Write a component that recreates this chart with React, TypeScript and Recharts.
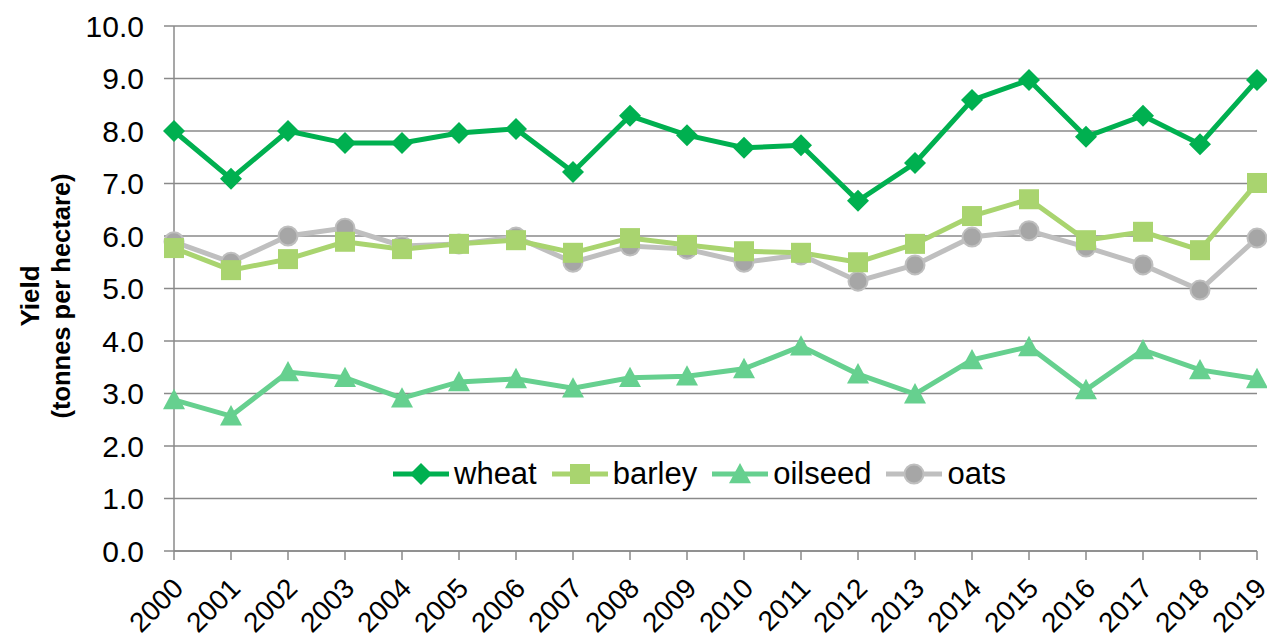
import React from "react";
import { LineChart, Line, XAxis, YAxis, CartesianGrid, Label } from "recharts";

const years = ["2000","2001","2002","2003","2004","2005","2006","2007","2008","2009","2010","2011","2012","2013","2014","2015","2016","2017","2018","2019"];
const wheat = [8.0, 7.09, 8.0, 7.77, 7.77, 7.96, 8.04, 7.22, 8.29, 7.92, 7.68, 7.73, 6.67, 7.39, 8.59, 8.97, 7.89, 8.29, 7.75, 8.97];
const barley = [5.77, 5.35, 5.56, 5.89, 5.75, 5.85, 5.92, 5.68, 5.96, 5.83, 5.71, 5.68, 5.5, 5.85, 6.38, 6.7, 5.92, 6.08, 5.73, 7.01];
const oilseed = [2.88, 2.57, 3.41, 3.3, 2.91, 3.22, 3.28, 3.1, 3.3, 3.33, 3.47, 3.9, 3.37, 2.99, 3.64, 3.89, 3.07, 3.83, 3.45, 3.28];
const oats = [5.89, 5.5, 6.0, 6.15, 5.81, 5.85, 5.98, 5.5, 5.81, 5.75, 5.5, 5.64, 5.14, 5.45, 5.98, 6.1, 5.79, 5.45, 4.97, 5.96];
const yTicks = [0, 1, 2, 3, 4, 5, 6, 7, 8, 9, 10];

const data = years.map((y, i) => ({ year: y, wheat: wheat[i], barley: barley[i], oilseed: oilseed[i], oats: oats[i] }));

const C_WHEAT = "#00B050";
const C_BARLEY = "#A9D46F";
const C_OIL = "#66D08F";
const C_OATS = "#BFBFBF";
const C_OATS_FILL = "#A6A6A6";
const C_GRID = "#8A8A8A";
const FONT = "'Liberation Sans', Arial, sans-serif";

const Diamond = ({ cx, cy, s = 11 }: any) => (
  <path d={`M${cx},${cy - s}L${cx + s},${cy}L${cx},${cy + s}L${cx - s},${cy}Z`} fill={C_WHEAT} />
);
const Square = ({ cx, cy, s = 10 }: any) => (
  <rect x={cx - s} y={cy - s} width={2 * s} height={2 * s} fill={C_BARLEY} />
);
const Triangle = ({ cx, cy, s = 11 }: any) => (
  <path d={`M${cx},${cy - s}L${cx + s},${cy + s * 0.85}L${cx - s},${cy + s * 0.85}Z`} fill={C_OIL} />
);
const Circle = ({ cx, cy, r = 9.5 }: any) => (
  <circle cx={cx} cy={cy} r={r} fill={C_OATS_FILL} stroke={C_OATS} strokeWidth={2} />
);

const XTick = ({ x, y, payload }: any) => (
  <text
    transform={`translate(${x + 11},${y + 28}) rotate(-45)`}
    textAnchor="end"
    fontFamily={FONT}
    fontSize={28}
    fill="#000"
  >
    {payload.value}
  </text>
);

const YTick = ({ x, y, payload }: any) => (
  <text x={x} y={y} dy={10.5} textAnchor="end" fontFamily={FONT} fontSize={30} fill="#000">
    {Number(payload.value).toFixed(1)}
  </text>
);

const legendItems = [
  { name: "wheat", color: C_WHEAT, marker: "diamond" },
  { name: "barley", color: C_BARLEY, marker: "square" },
  { name: "oilseed", color: C_OIL, marker: "triangle" },
  { name: "oats", color: C_OATS, marker: "circle" },
];

const LegendBox = () => (
  <div style={{ position: "absolute", left: 393, top: 459, display: "flex", alignItems: "center", fontFamily: FONT, fontSize: 31, color: "#000", whiteSpace: "nowrap" }}>
    {legendItems.map((it) => (
      <div key={it.name} style={{ display: "flex", alignItems: "center", marginRight: 15 }}>
        <svg width={56} height={30} style={{ marginRight: 5 }}>
          <line x1={0} y1={15} x2={56} y2={15} stroke={it.color} strokeWidth={5} />
          {it.marker === "diamond" && <Diamond cx={28} cy={15} s={11} />}
          {it.marker === "square" && <Square cx={28} cy={15} s={10} />}
          {it.marker === "triangle" && <Triangle cx={28} cy={15} s={11} />}
          {it.marker === "circle" && <Circle cx={28} cy={15} r={9.5} />}
        </svg>
        <span style={{ lineHeight: "30px" }}>{it.name}</span>
      </div>
    ))}
  </div>
);

const YTitle = () => {
  const cy = 296;
  return (
    <g>
      <text transform={`translate(39,${cy}) rotate(-90)`} textAnchor="middle" fontFamily={FONT} fontSize={26} fontWeight="bold" fill="#000">
        Yield
      </text>
      <text transform={`translate(70,${cy}) rotate(-90)`} textAnchor="middle" fontFamily={FONT} fontSize={25.5} fontWeight="bold" fill="#000">
        (tonnes per hectare)
      </text>
    </g>
  );
};

export default function App() {
  return (
    <div style={{ position: "absolute", left: 0, top: 0, width: 1267, height: 641 }}>
      <LineChart width={1267} height={641} data={data} margin={{ top: 26, right: 10, left: 0, bottom: 0 }}>
        <CartesianGrid vertical={false} stroke={C_GRID} strokeWidth={1.5} />
        <XAxis
          dataKey="year"
          height={90}
          interval={0}
          tick={<XTick />}
          tickSize={9}
          tickMargin={2}
          axisLine={{ stroke: C_GRID, strokeWidth: 1.5 }}
          tickLine={{ stroke: C_GRID, strokeWidth: 1.5 }}
          padding={{ left: 0, right: 0 }}
        />
        <YAxis
          width={174}
          domain={[0, 10]}
          ticks={yTicks}
          interval={0}
          tick={<YTick />}
          tickSize={10}
          tickMargin={20}
          axisLine={{ stroke: C_GRID, strokeWidth: 1.5 }}
          tickLine={{ stroke: C_GRID, strokeWidth: 1.5 }}
        >
          <Label content={<YTitle />} />
        </YAxis>
        <Line dataKey="oilseed" stroke={C_OIL} strokeWidth={5} isAnimationActive={false}
          dot={(p: any) => <Triangle key={`t${p.index}`} cx={p.cx} cy={p.cy} />} activeDot={false} />
        <Line dataKey="oats" stroke={C_OATS} strokeWidth={5} isAnimationActive={false}
          dot={(p: any) => <Circle key={`c${p.index}`} cx={p.cx} cy={p.cy} />} activeDot={false} />
        <Line dataKey="barley" stroke={C_BARLEY} strokeWidth={5} isAnimationActive={false}
          dot={(p: any) => <Square key={`s${p.index}`} cx={p.cx} cy={p.cy} />} activeDot={false} />
        <Line dataKey="wheat" stroke={C_WHEAT} strokeWidth={5} isAnimationActive={false}
          dot={(p: any) => <Diamond key={`d${p.index}`} cx={p.cx} cy={p.cy} />} activeDot={false} />
      </LineChart>
      <LegendBox />
    </div>
  );
}
